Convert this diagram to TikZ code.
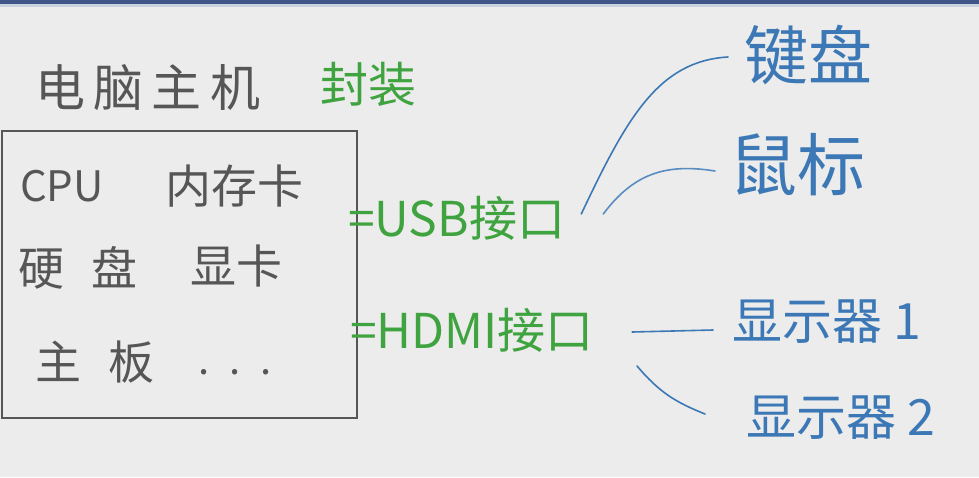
\documentclass[tikz,border=0pt]{standalone}
\usepackage{fontspec}
\setmainfont{Noto Sans CJK SC}
\usetikzlibrary{positioning}

\definecolor{boardbg}{HTML}{ECECEC}
\definecolor{inkgray}{HTML}{565656}
\definecolor{inkgreen}{HTML}{3FA33F}
\definecolor{inkblue}{HTML}{3C78B5}
\definecolor{barblue}{HTML}{3F5587}
\definecolor{barlight}{HTML}{C9D0DE}

\begin{document}
\begin{tikzpicture}[
  x=1pt, y=-1pt,
  graytxt/.style={text=inkgray, inner sep=0pt, anchor=west,
    font=\fontsize{46}{46}\selectfont},
  greentxt/.style={text=inkgreen, inner sep=0pt, anchor=west,
    font=\fontsize{48}{48}\selectfont},
  bluetxt/.style={text=inkblue, inner sep=0pt, anchor=west,
    font=\fontsize{50}{50}\selectfont},
  hostbox/.style={draw=inkgray, line width=1.8pt},
  link/.style={draw=inkblue, line width=1.6pt, line cap=round},
]

% ── board and top bar ───────────────────────────────────────────────────────
\fill[boardbg] (0,0) rectangle (979,477);
\useasboundingbox (0,0) rectangle (979,477);
\fill[barlight] (0,4) rectangle (979,7);
\fill[barblue] (0,0) rectangle (979,4);

% ── host title ──────────────────────────────────────────────────────────────
\node[graytxt, font=\fontsize{50}{50}\selectfont] (title) at (35,88)
  {电\,脑\,主\,机};
\node[greentxt, font=\fontsize{48}{48}\selectfont] (pack) at (320,84)
  {封装};

% ── host box with parts ─────────────────────────────────────────────────────
\draw[hostbox] (2,131) rectangle (357,418);

\node[graytxt, font=\fontsize{42}{42}\selectfont] (cpu) at (20,186) {CPU};
\node[graytxt] (mem)  at (165,186) {内存卡};
\node[graytxt] (hdd)  at (18,268)  {硬\hspace{0.6em}盘};
\node[graytxt] (gpu)  at (190,266) {显卡};
\node[graytxt] (mb)   at (35,362)  {主\hspace{0.6em}板};
\node[graytxt, font=\fontsize{40}{40}\selectfont] (more) at (198,372)
  {.\hspace{0.5em}.\hspace{0.5em}.};

% ── ports ───────────────────────────────────────────────────────────────────
\node[greentxt] (usb)  at (348,218) {=USB接口};
\node[greentxt] (hdmi) at (350,330) {=HDMI接口};

% ── devices ─────────────────────────────────────────────────────────────────
\node[bluetxt, font=\fontsize{64}{64}\selectfont] (kbd)   at (744,55)  {键盘};
\node[bluetxt, font=\fontsize{68}{68}\selectfont] (mouse) at (729,165) {鼠标};
\node[bluetxt] (disp1) at (732,322) {显示器 1};
\node[bluetxt] (disp2) at (746,418) {显示器 2};

% ── connectors ──────────────────────────────────────────────────────────────
\draw[link] ([xshift=16pt,yshift=4pt]usb.east)
  .. controls +(45,-95) and +(-70,4) .. ([xshift=-16pt,yshift=-2pt]kbd.west);
\draw[link, draw=inkblue!85] ([xshift=38pt,yshift=4pt]usb.east)
  .. controls +(30,-40) and +(-50,-8) .. ([xshift=-14pt,yshift=-6pt]mouse.west);
\draw[link] ([xshift=38pt,yshift=-2pt]hdmi.east) -- ([xshift=-19pt,yshift=-8pt]disp1.west);
\draw[link] ([xshift=43pt,yshift=-36pt]hdmi.east)
  .. controls +(22,26) and +(-30,-12) .. ([xshift=-41pt,yshift=4pt]disp2.west);
\end{tikzpicture}
\end{document}
